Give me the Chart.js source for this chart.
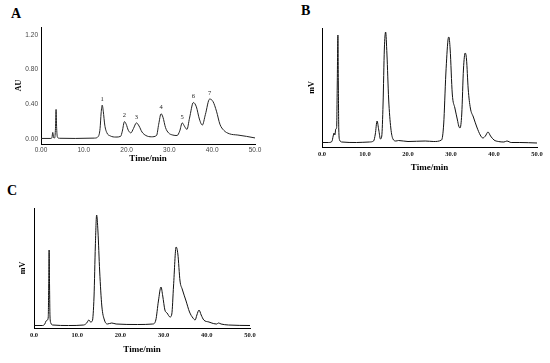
<!DOCTYPE html>
<html><head><meta charset="utf-8">
<script src="https://cdn.jsdelivr.net/npm/chart.js@4.4.0/dist/chart.umd.min.js"></script>
<style>
html,body{margin:0;padding:0;background:#fff;width:550px;height:363px;overflow:hidden}
.p{position:absolute}
.lt{position:absolute;font:bold 14px "Liberation Serif",serif;color:#000;line-height:14px}
</style></head><body>
<div class="lt" style="left:11px;top:7px">A</div>
<div class="lt" style="left:301px;top:4px">B</div>
<div class="lt" style="left:7px;top:184px">C</div>
<div class="p" style="left:0;top:0"><canvas id="ca" width="275" height="180"></canvas></div>
<div class="p" style="left:275px;top:0"><canvas id="cb" width="275" height="180"></canvas></div>
<div class="p" style="left:0;top:181px"><canvas id="cc" width="275" height="182"></canvas></div>
<script>
// ---- Data ----
const xTicks = [0, 10, 20, 30, 40, 50];
const aXTickLabels = ['0.00', '10.0', '20.0', '30.0', '40.0', '50.0'];
const bcXTickLabels = ['0.0', '10.0', '20.0', '30.0', '40.0', '50.0'];
const aYTicks = [0, 0.4, 0.8, 1.2];
const aYTickLabels = ['0.00', '0.40', '0.80', '1.20'];

// Panel A (AU)
const aTime = [0,2.3,2.55,2.75,2.95,3.2,3.38,3.52,3.66,3.85,4.3,8,12.5,13.4,13.8,14.05,14.3,14.55,14.9,15.4,16.2,17.5,18.6,19.0,19.5,19.9,20.4,21.0,21.6,22.3,22.9,23.6,24.5,25.8,27.0,27.5,28.05,28.5,29.1,29.8,30.8,31.8,32.4,33.0,33.6,34.1,34.7,35.6,36.3,37.0,37.7,38.4,39.4,40.2,41.0,41.8,42.7,44,46,48,50];
const aAU = [0.006,0.006,0.015,0.075,0.015,0.012,0.12,0.34,0.12,0.02,0.008,0.006,0.01,0.03,0.12,0.3,0.39,0.32,0.16,0.07,0.035,0.022,0.03,0.09,0.2,0.17,0.1,0.07,0.12,0.185,0.15,0.08,0.04,0.025,0.04,0.17,0.29,0.25,0.13,0.07,0.045,0.04,0.09,0.185,0.14,0.11,0.24,0.42,0.37,0.23,0.16,0.28,0.46,0.43,0.32,0.17,0.1,0.06,0.045,0.03,0.012];
const peakLabels = ['1','2','3','4','5','6','7'];
const peakTimes = [14.3, 19.5, 22.3, 28.05, 33.0, 35.6, 39.4];
const peakHeights = [0.39, 0.2, 0.185, 0.29, 0.185, 0.42, 0.46];

// Panel B (mV, relative)
const bTime = [0,1.5,2.3,2.6,2.8,3.0,3.2,3.4,3.55,3.7,3.8,3.9,4.1,4.6,8,11,12,12.4,12.8,13.2,13.6,13.9,14.2,14.5,14.8,15.1,15.5,16,16.5,17.2,17.8,20,24,26,27.8,28.3,28.8,29.3,29.5,29.8,30.3,30.9,31.5,31.8,32.1,32.5,32.9,33.3,33.6,34.0,34.5,35.2,36,36.8,37.4,38.0,38.6,39.2,40,41,42.3,43,44,46,50];
const bMV = [1.5,1.5,2.5,8,11,9,15,16,60,109,60,15,4,2,1.5,2,3,10,23,14,5,8,40,95,112,90,45,16,5,3,3.5,2.5,3,2.5,4,20,70,104,107,95,50,36,24,18,16,30,75,91,85,55,36,27,17,9,6,8,12,8,4,2.5,2,3,1.5,1.5,1];

// Panel C (mV, relative)
const cTime = [0,2.0,2.5,2.8,3.1,3.3,3.4,3.5,3.6,3.7,3.9,4.3,8,11.5,12.2,12.7,13.1,13.5,13.9,14.2,14.5,14.8,15.2,15.7,16.3,17,18,19,24,27.5,28.2,28.8,29.4,29.8,30.3,30.8,31.5,31.9,32.3,32.9,33.3,33.8,34.3,35.2,36,36.8,37.3,37.7,38.2,38.7,39.3,40.5,41.5,42.3,42.7,43.3,45,50];
const cMV = [0.5,0.5,2,5,6,9,40,76,40,10,3,1,0.5,1,3,6,4,5,30,80,111,95,55,20,6,2,3,2,1.5,2,6,25,39,30,16,13,9,12,40,79,72,45,37,25,14,8,6,11,16,11,6,4,2.5,2,3,2,1,0.5];

// ---- Helpers ----
const serif = '"Liberation Serif", "Times New Roman", serif';
const sans = '"Liberation Sans", Arial, sans-serif';

function pts(t, v) { return t.map((x, i) => ({ x: x, y: v[i] })); }

const peakLabelPlugin = {
  id: 'peakLabels',
  afterDatasetsDraw(chart) {
    if (chart.canvas.id !== 'ca') return;
    const { ctx, scales: { x, y } } = chart;
    ctx.save();
    ctx.font = '6.5px ' + serif;
    ctx.fillStyle = '#222';
    ctx.textAlign = 'center';
    ctx.textBaseline = 'middle';
    peakLabels.forEach((l, i) => {
      ctx.fillText(l, x.getPixelForValue(peakTimes[i]), y.getPixelForValue(peakHeights[i]) - 6);
    });
    ctx.restore();
  }
};

function makeChart(id, opt) {
  return new Chart(document.getElementById(id), {
    type: 'line',
    data: { datasets: [{
      data: pts(opt.time, opt.values),
      borderColor: opt.lineColor, borderWidth: 1, pointRadius: 0,
      cubicInterpolationMode: 'monotone', fill: false
    }] },
    options: {
      responsive: false, animation: false, events: [],
      layout: { padding: opt.padding },
      plugins: { legend: { display: false }, tooltip: { enabled: false } },
      scales: {
        x: {
          type: 'linear', min: 0, max: 50,
          grid: { display: false, drawTicks: false, tickLength: 0 },
          border: { display: true, color: '#000', width: 1 },
          afterBuildTicks: s => { s.ticks = xTicks.map(v => ({ value: v })); },
          ticks: {
            autoSkip: false, maxRotation: 0, padding: opt.xTickPad,
            font: opt.tickFont, color: opt.tickColor,
            callback: (v, i) => opt.xLabels[i]
          },
          title: { display: true, text: 'Time/min', color: '#000',
            font: { family: serif, weight: 'bold', size: 9 },
            padding: { top: 0, bottom: opt.xTitlePad } },
          afterFit: s => { s.height = opt.xHeight; }
        },
        y: {
          type: 'linear', min: opt.yMin, max: opt.yMax,
          grid: { display: false, drawTicks: false, tickLength: 0 },
          border: { display: true, color: '#000', width: 1 },
          afterBuildTicks: s => { if (opt.yTicks) s.ticks = opt.yTicks.map(v => ({ value: v })); },
          ticks: opt.yTicks ? {
            display: true, padding: 3, font: opt.tickFont, color: opt.tickColor,
            callback: (v, i) => opt.yLabels[i]
          } : { display: false },
          title: { display: true, text: opt.yTitle, color: '#000',
            font: { family: serif, weight: 'bold', size: 8 },
            padding: { top: opt.yTitlePad, bottom: 0 } },
          afterFit: s => { s.width = opt.yWidth; }
        }
      }
    },
    plugins: [peakLabelPlugin]
  });
}

makeChart('ca', {
  time: aTime, values: aAU, lineColor: '#222',
  padding: { left: 0, right: 20, top: 27, bottom: 0 },
  xHeight: 36, yWidth: 41, xTickPad: 2, xTitlePad: 15.6, yTitlePad: 14,
  tickFont: { family: sans, size: 6.5 }, tickColor: '#444',
  xLabels: aXTickLabels, yTicks: aYTicks, yLabels: aYTickLabels,
  yMin: -0.058, yMax: 1.29, yTitle: 'AU'
});

makeChart('cb', {
  time: bTime, values: bMV, lineColor: '#111',
  padding: { left: 0, right: 13, top: 28, bottom: 0 },
  xHeight: 33, yWidth: 47, xTickPad: 3, xTitlePad: 6.6, yTitlePad: 32,
  tickFont: { family: serif, size: 6.5, weight: 'bold' }, tickColor: '#111',
  xLabels: bcXTickLabels, yTicks: null,
  yMin: -3, yMax: 116, yTitle: 'mV'
});

makeChart('cc', {
  time: cTime, values: cMV, lineColor: '#111',
  padding: { left: 0, right: 25, top: 27, bottom: 0 },
  xHeight: 35, yWidth: 34, xTickPad: 3, xTitlePad: 7.6, yTitlePad: 18,
  tickFont: { family: serif, size: 6.5, weight: 'bold' }, tickColor: '#111',
  xLabels: bcXTickLabels, yTicks: null,
  yMin: -2, yMax: 118, yTitle: 'mV'
});
</script>
</body></html>
